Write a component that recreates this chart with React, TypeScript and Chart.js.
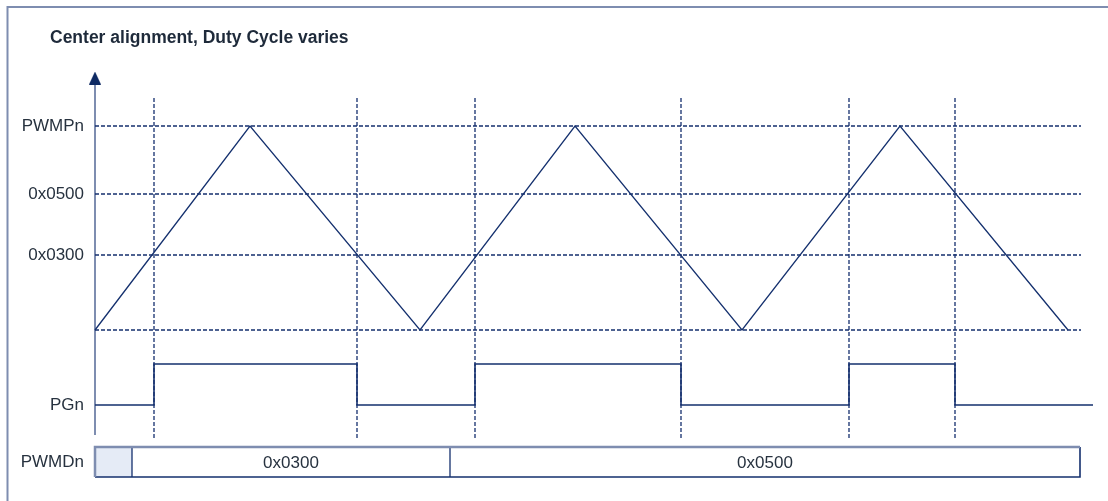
import React, { useEffect, useRef } from "react";
import { Chart, registerables } from "chart.js";

Chart.register(...registerables);

// ---- data (time units along the x axis, counter units along the y axis) ----
const chartTitle = "Center alignment, Duty Cycle varies";
const axisLabels = ["PWMDn", "PGn", "0x0300", "0x0500", "PWMPn"];
const axisLabelValues = [-132, -75, 75, 136, 204];
const compareLevels = [204, 136, 75, 0];
const levelLineEnd = 986;
const counterTimes = [0, 155, 325, 480, 647, 805, 973];
const counterValues = [0, 204, 0, 204, 0, 204, 0];
const pgnTimes = [0, 59, 262, 380, 586, 754, 860, 998];
const pgnStates = [0, 1, 0, 1, 0, 1, 0, 0];
const pgnLow = -75;
const pgnHigh = -34;
const crossTimes = [59, 262, 380, 586, 754, 860];
const crossTop = 232;
const crossBottom = -109;
const pwmdBounds = [0, 37, 355, 985];
const pwmdLabels = ["", "0x0300", "0x0500"];
const pwmdTop = -117;
const pwmdBottom = -147;
const axisBottom = -105;
const axisTop = 246;
const arrowAt = 252;

const NAVY = "#14306e";
const DASH = "#142f6e";
const AXIS = "#7e8db0";
const TEXT = "#27323f";
const FONT = "'Liberation Sans', Arial, sans-serif";

type P = { x: number; y: number | null };

function segments(list: [number, number, number, number][]): P[] {
  const out: P[] = [];
  list.forEach(([x1, y1, x2, y2]) => {
    out.push({ x: x1, y: y1 }, { x: x2, y: y2 }, { x: x2, y: null });
  });
  return out;
}

function makeArrow(): HTMLCanvasElement {
  const c = document.createElement("canvas");
  c.width = 12;
  c.height = 13;
  const g = c.getContext("2d")!;
  g.fillStyle = "#0e2a63";
  g.beginPath();
  g.moveTo(6, 0);
  g.lineTo(12, 13);
  g.lineTo(0, 13);
  g.closePath();
  g.fill();
  return c;
}

const framePlugin = {
  id: "frame",
  beforeDraw(chart: any) {
    const { ctx, width, height } = chart;
    ctx.save();
    ctx.fillStyle = "#ffffff";
    ctx.fillRect(0, 0, width, height);
    ctx.strokeStyle = AXIS;
    ctx.lineWidth = 2;
    ctx.beginPath();
    ctx.moveTo(width, 7);
    ctx.lineTo(7.5, 7);
    ctx.lineTo(7.5, height);
    ctx.stroke();
    ctx.fillStyle = "#1e2a3a";
    ctx.font = `bold 17.5px ${FONT}`;
    ctx.textAlign = "left";
    ctx.textBaseline = "alphabetic";
    ctx.fillText(chartTitle, 50, 43);
    ctx.restore();
  },
  afterDatasetsDraw(chart: any) {
    const { ctx } = chart;
    const xs = chart.scales.x;
    const ys = chart.scales.y;
    ctx.save();
    ctx.fillStyle = TEXT;
    ctx.font = `17px ${FONT}`;
    ctx.textAlign = "center";
    ctx.textBaseline = "middle";
    const yMid = ys.getPixelForValue((pwmdTop + pwmdBottom) / 2);
    pwmdLabels.forEach((lab, i) => {
      if (!lab) return;
      const xm = xs.getPixelForValue((pwmdBounds[i] + pwmdBounds[i + 1]) / 2);
      ctx.fillText(lab, xm, yMid + 1);
    });
    ctx.restore();
  },
};

export default function App() {
  const ref = useRef<HTMLCanvasElement | null>(null);

  useEffect(() => {
    if (!ref.current) return;
    const levelData = segments(compareLevels.map((l) => [0, l, levelLineEnd, l] as [number, number, number, number]));
    const crossData = segments(crossTimes.map((t) => [t, crossTop, t, crossBottom] as [number, number, number, number]));
    const counterData = counterTimes.map((t, i) => ({ x: t, y: counterValues[i] }));
    const pgnData = pgnTimes.map((t, i) => ({ x: t, y: pgnStates[i] ? pgnHigh : pgnLow }));
    const last = pwmdBounds[pwmdBounds.length - 1];
    const firstCell = [
      { x: pwmdBounds[0], y: pwmdTop },
      { x: pwmdBounds[1], y: pwmdTop },
      { x: pwmdBounds[1], y: pwmdBottom },
      { x: pwmdBounds[0], y: pwmdBottom },
      { x: pwmdBounds[0], y: pwmdTop },
    ];
    const barNavy = [
      { x: pwmdBounds[0], y: pwmdBottom },
      { x: last, y: pwmdBottom },
      { x: last, y: pwmdTop },
    ];
    const barGrey = [
      { x: pwmdBounds[0], y: pwmdBottom },
      { x: pwmdBounds[0], y: pwmdTop },
      { x: last, y: pwmdTop },
    ];
    const dividers = segments(
      pwmdBounds.slice(1, -1).map((b) => [b, pwmdTop, b, pwmdBottom] as [number, number, number, number])
    );

    const base = { pointRadius: 0, pointHoverRadius: 0, clip: false as any, spanGaps: false, tension: 0 };

    const chart = new Chart(ref.current, {
      type: "line",
      data: {
        datasets: [
          { ...base, label: "arrow", data: [{ x: 0, y: arrowAt }], pointRadius: 6, pointStyle: makeArrow() as any, showLine: false },
          { ...base, label: "counter", data: counterData, borderColor: NAVY, borderWidth: 1.3 },
          { ...base, label: "PGn", data: pgnData, borderColor: NAVY, borderWidth: 1.6, stepped: "before" },
          { ...base, label: "cross", data: crossData as any, borderColor: DASH, borderWidth: 1.3, borderDash: [4, 2] },
          { ...base, label: "levels", data: levelData as any, borderColor: DASH, borderWidth: 1.3, borderDash: [4, 2] },
          { ...base, label: "axis", data: [{ x: 0, y: axisBottom }, { x: 0, y: axisTop }], borderColor: AXIS, borderWidth: 2 },
          { ...base, label: "barGrey", data: barGrey, borderColor: AXIS, borderWidth: 2.5 },
          { ...base, label: "barNavy", data: barNavy, borderColor: NAVY, borderWidth: 1.6 },
          { ...base, label: "dividers", data: dividers as any, borderColor: NAVY, borderWidth: 1.3 },
          { ...base, label: "cell", data: firstCell, borderWidth: 0, borderColor: "rgba(0,0,0,0)", backgroundColor: "#e5ebf6", fill: "shape" as any },
        ],
      },
      options: {
        animation: false,
        responsive: false,
        maintainAspectRatio: false,
        events: [],
        layout: { padding: 0, autoPadding: false },
        plugins: { legend: { display: false }, tooltip: { enabled: false }, title: { display: false } },
        scales: {
          x: { type: "linear", display: false, min: 0, max: 1013 },
          y: {
            type: "linear",
            min: -171,
            max: 330,
            position: "left",
            grid: { display: false, drawTicks: false },
            border: { display: false },
            ticks: {
              autoSkip: false,
              padding: 11,
              color: TEXT,
              font: { family: FONT, size: 17 },
              callback: (v: any) => {
                const i = axisLabelValues.indexOf(Number(v));
                return i >= 0 ? axisLabels[i] : "";
              },
            },
            afterBuildTicks: (axis: any) => {
              axis.ticks = axisLabelValues.map((v) => ({ value: v }));
            },
            afterFit: (axis: any) => {
              axis.width = 95;
              axis.paddingTop = 0;
              axis.paddingBottom = 0;
              axis.paddingLeft = 0;
              axis.paddingRight = 0;
            },
          },
        },
      },
      plugins: [framePlugin],
    });
    return () => chart.destroy();
  }, []);

  return (
    <div style={{ position: "fixed", left: 0, top: 0, width: 1108, height: 501, background: "#fff" }}>
      <canvas ref={ref} width={1108} height={501} />
    </div>
  );
}
